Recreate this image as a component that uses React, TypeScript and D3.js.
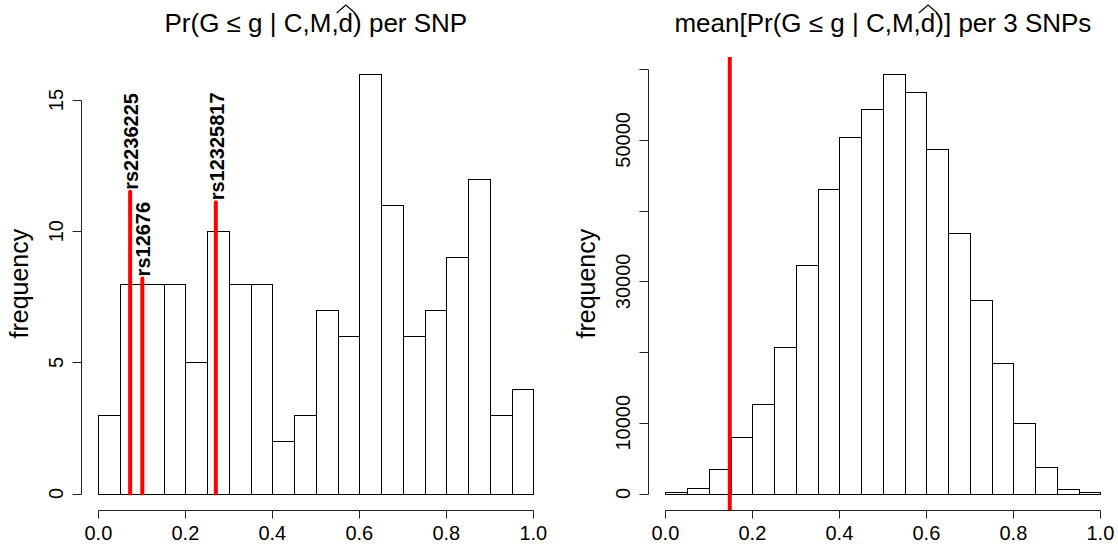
import * as React from "react";
import * as d3 from "d3";

// histogram bin edges shared by both panels
const binEdges = [
  0, 0.05, 0.1, 0.15, 0.2, 0.25, 0.3, 0.35, 0.4, 0.45, 0.5, 0.55, 0.6, 0.65,
  0.7, 0.75, 0.8, 0.85, 0.9, 0.95, 1,
];

// left panel: per SNP
const snpCounts = [3, 8, 8, 8, 5, 10, 8, 8, 2, 3, 7, 6, 16, 11, 6, 7, 9, 12, 3, 4];
const snpNames = ["rs2236225", "rs12676", "rs12325817"];
const snpValues = [0.073, 0.101, 0.27];
const snpMarkHeights = [11.5, 8.2, 11.1];

// right panel: mean over triplets of SNPs
const tripletCounts = [
  150, 790, 3440, 7960, 12680, 20650, 32250, 43100, 50350, 54400, 59350, 56760,
  48650, 36860, 27380, 18470, 9940, 3680, 650, 150,
];
const tripletMarker = 0.148;

const xTicks = [0, 0.2, 0.4, 0.6, 0.8, 1];
const snpYTicks = [0, 5, 10, 15];
const snpYLabels = [0, 5, 10, 15];
const tripletYTicks = [0, 10000, 20000, 30000, 40000, 50000, 60000];
const tripletYLabels = [0, 10000, 30000, 50000];

const titles = ["Pr(G ≤ g | C,M,d) per SNP", "mean[Pr(G ≤ g | C,M,d)] per 3 SNPs"];
const yTitle = "frequency";

const WIDTH = 1118;
const HEIGHT = 546;
const FONT = "'Liberation Sans', Arial, Helvetica, sans-serif";

const panels = [
  { left: 81, right: 550.7, top: 57, bottom: 510.3 },
  { left: 648, right: 1117.8, top: 57, bottom: 510.3 },
];

const crisp = (v: number) => Math.round(v) + 0.5;

function drawPanel(svg, box, counts, yTicks, yLabels, title) {
  const ymax = d3.max(counts) as number;
  const x = d3.scaleLinear().domain([-0.04, 1.04]).range([box.left, box.right]);
  const y = d3
    .scaleLinear()
    .domain([-0.04 * ymax, 1.04 * ymax])
    .range([box.bottom, box.top]);

  const g = svg.append("g");

  // bars
  g.selectAll("rect.bar")
    .data(counts)
    .enter()
    .append("rect")
    .attr("class", "bar")
    .attr("x", (d, i) => crisp(x(binEdges[i])))
    .attr("y", (d) => crisp(y(d)))
    .attr("width", (d, i) => crisp(x(binEdges[i + 1])) - crisp(x(binEdges[i])))
    .attr("height", (d) => crisp(y(0)) - crisp(y(d)))
    .attr("fill", "white")
    .attr("stroke", "black")
    .attr("stroke-width", 1);

  // x axis (R style: line from first to last tick)
  const ax = g.append("g").attr("stroke", "#222").attr("stroke-width", 1);
  const axY = crisp(box.bottom);
  ax.append("line")
    .attr("x1", crisp(x(xTicks[0])))
    .attr("x2", crisp(x(xTicks[xTicks.length - 1])))
    .attr("y1", axY)
    .attr("y2", axY);
  ax.selectAll("line.xt")
    .data(xTicks)
    .enter()
    .append("line")
    .attr("class", "xt")
    .attr("x1", (d) => crisp(x(d)))
    .attr("x2", (d) => crisp(x(d)))
    .attr("y1", axY)
    .attr("y2", axY + 8);
  g.selectAll("text.xl")
    .data(xTicks)
    .enter()
    .append("text")
    .attr("class", "xl")
    .attr("x", (d) => x(d))
    .attr("y", 540)
    .attr("text-anchor", "middle")
    .attr("font-size", 20)
    .text(d3.format(".1f"));

  // y axis
  const axX = crisp(box.left);
  ax.append("line")
    .attr("x1", axX)
    .attr("x2", axX)
    .attr("y1", crisp(y(yTicks[0])))
    .attr("y2", crisp(y(yTicks[yTicks.length - 1])));
  ax.selectAll("line.yt")
    .data(yTicks)
    .enter()
    .append("line")
    .attr("class", "yt")
    .attr("x1", axX - 9)
    .attr("x2", axX)
    .attr("y1", (d) => crisp(y(d)))
    .attr("y2", (d) => crisp(y(d)));
  g.selectAll("text.yl")
    .data(yLabels)
    .enter()
    .append("text")
    .attr("class", "yl")
    .attr("transform", (d) => `translate(${box.left - 18},${y(d)}) rotate(-90)`)
    .attr("text-anchor", "middle")
    .attr("font-size", 20)
    .text((d) => String(d));

  g.append("text")
    .attr("transform", `translate(${box.left - 53},${(box.top + box.bottom) / 2}) rotate(-90)`)
    .attr("text-anchor", "middle")
    .attr("font-size", 25)
    .text(yTitle);

  // title, with a hat drawn over the d
  const cx = (box.left + box.right) / 2;
  const t = g
    .append("text")
    .attr("x", cx)
    .attr("y", 32)
    .attr("text-anchor", "middle")
    .attr("font-size", 26)
    .text(title);
  const idx = title.indexOf("d)");
  const ext = (t.node() as SVGTextElement).getExtentOfChar(idx);
  const hx0 = ext.x - 2;
  const hx1 = ext.x + ext.width + 2;
  g.append("path")
    .attr("d", `M${hx0},13L${(hx0 + hx1) / 2},5L${hx1},13`)
    .attr("fill", "none")
    .attr("stroke", "black")
    .attr("stroke-width", 1.2);

  return { x, y, g };
}

export default function App() {
  const ref = React.useRef<SVGSVGElement>(null);

  React.useEffect(() => {
    const svg = d3.select(ref.current);
    svg.selectAll("*").remove();
    svg.attr("font-family", FONT);

    const left = drawPanel(svg, panels[0], snpCounts, snpYTicks, snpYLabels, titles[0]);
    const right = drawPanel(svg, panels[1], tripletCounts, tripletYTicks, tripletYLabels, titles[1]);

    // red markers for named SNPs
    const marks = left.g.append("g");
    marks
      .selectAll("line")
      .data(snpValues)
      .enter()
      .append("line")
      .attr("x1", (d) => left.x(d))
      .attr("x2", (d) => left.x(d))
      .attr("y1", left.y(0))
      .attr("y2", (d, i) => left.y(snpMarkHeights[i]))
      .attr("stroke", "#ff0000")
      .attr("stroke-width", 4)
      .attr("stroke-linecap", "round");
    marks
      .selectAll("text")
      .data(snpNames)
      .enter()
      .append("text")
      .attr(
        "transform",
        (d, i) => `translate(${left.x(snpValues[i]) + 8},${left.y(snpMarkHeights[i]) - 2}) rotate(-90)`
      )
      .attr("font-size", 20)
      .attr("font-weight", "bold")
      .text((d) => d);

    // red marker line across right panel
    right.g
      .append("line")
      .attr("x1", right.x(tripletMarker))
      .attr("x2", right.x(tripletMarker))
      .attr("y1", panels[1].top)
      .attr("y2", panels[1].bottom)
      .attr("stroke", "#ff0000")
      .attr("stroke-width", 4);
  }, []);

  return (
    <svg
      ref={ref}
      width={WIDTH}
      height={HEIGHT}
      style={{ position: "absolute", left: 0, top: 0, background: "white" }}
    />
  );
}
